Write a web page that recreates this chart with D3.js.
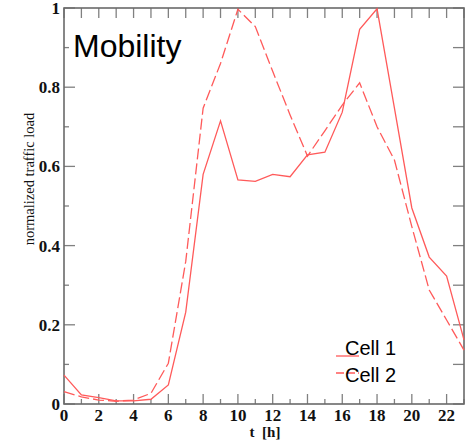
<!DOCTYPE html>
<html><head><meta charset="utf-8">
<script src="https://cdn.jsdelivr.net/npm/d3@7"></script>
<style>body{margin:0;background:#fff}svg{display:block}</style>
</head><body>
<svg id="c" width="468" height="442"></svg>
<script>
const hours = d3.range(0, 24);
const cell1 = [0.073,0.023,0.016,0.008,0.008,0.012,0.048,0.232,0.58,0.715,0.566,0.562,0.58,0.574,0.629,0.636,0.737,0.946,0.998,0.747,0.495,0.371,0.323,0.162];
const cell2 = [0.031,0.018,0.01,0.007,0.01,0.027,0.103,0.36,0.747,0.86,0.997,0.953,0.84,0.73,0.626,0.69,0.755,0.811,0.70,0.616,0.448,0.288,0.212,0.136];
const xTicks = [0,2,4,6,8,10,12,14,16,18,20,22];
const yTicks = [0,0.2,0.4,0.6,0.8,1];
const yTickLabels = ["0","0.2","0.4","0.6","0.8","1"];
const legendLabels = ["Cell 1","Cell 2"];

const svg = d3.select("#c");
const L = 64, R = 464, T = 8, B = 404;
const x = d3.scaleLinear().domain([0,23]).range([L,R]);
const y = d3.scaleLinear().domain([0,1]).range([B,T]);
const red = "#ff5a5a", axisCol = "#808080";
const serif = "'Liberation Serif','Times New Roman',serif";
const sans = "'Liberation Sans',Arial,sans-serif";

// ticks
const g = svg.append("g");
const hourTicks = d3.range(0, 24);
const yMinor = d3.range(0, 11).map(i => i/10);
hourTicks.forEach(h => {
  const len = h % 2 === 0 ? 10 : 5;
  g.append("line").attr("x1",x(h)).attr("x2",x(h)).attr("y1",B).attr("y2",B-len).attr("stroke",axisCol).attr("stroke-width",1.3);
  g.append("line").attr("x1",x(h)).attr("x2",x(h)).attr("y1",T).attr("y2",T+10).attr("stroke",axisCol).attr("stroke-width",1.3);
});
yMinor.forEach((v,i) => {
  const len = i % 2 === 0 ? 11 : 5;
  g.append("line").attr("x1",L).attr("x2",L+len).attr("y1",y(v)).attr("y2",y(v)).attr("stroke",axisCol).attr("stroke-width",1.3);
  g.append("line").attr("x1",R).attr("x2",R-11).attr("y1",y(v)).attr("y2",y(v)).attr("stroke",axisCol).attr("stroke-width",1.3);
});

// frame
svg.append("rect").attr("x",L).attr("y",T).attr("width",R-L).attr("height",B-T)
  .attr("fill","none").attr("stroke","#6a6a6a").attr("stroke-width",1.6);

// tick labels
svg.append("g").selectAll("text").data(xTicks).join("text")
  .attr("x", d => x(d)).attr("y", 421).attr("text-anchor","middle")
  .attr("font-family",serif).attr("font-weight","bold").attr("font-size",17).attr("fill","#111")
  .text(d => d);
svg.append("g").selectAll("text").data(yTicks).join("text")
  .attr("x", 60).attr("y", d => y(d) + 6).attr("text-anchor","end")
  .attr("font-family",serif).attr("font-weight","bold").attr("font-size",17).attr("fill","#111")
  .text((d,i) => yTickLabels[i]);

// axis titles
svg.append("text").attr("x",265).attr("y",437).attr("text-anchor","middle")
  .attr("font-family",serif).attr("font-weight","bold").attr("font-size",15).attr("fill","#111")
  .attr("xml:space","preserve").text("t  [h]");
svg.append("text").attr("transform","translate(34,179) rotate(-90)").attr("text-anchor","middle")
  .attr("font-family",serif).attr("font-size",14.5).attr("fill","#111")
  .text("normalized traffic load");

// lines
const line = d3.line().x((d,i) => x(hours[i])).y(d => y(d));
svg.append("path").datum(cell1).attr("d",line).attr("fill","none").attr("stroke",red).attr("stroke-width",1.3);
svg.append("path").datum(cell2).attr("d",line).attr("fill","none").attr("stroke",red).attr("stroke-width",1.3).attr("stroke-dasharray","11,4");

// title
svg.append("text").attr("x",73).attr("y",57).attr("font-family",sans).attr("font-size",32).attr("fill","#000").text("Mobility");

// legend
const lg = svg.append("g");
legendLabels.forEach((lab,i) => {
  const yy = 356 + i*17;
  lg.append("line").attr("x1",336).attr("x2",359).attr("y1",yy).attr("y2",yy).attr("stroke",red).attr("stroke-width",1.3)
    .attr("stroke-dasharray", i === 1 ? "8,3" : null);
  lg.append("text").attr("x",345).attr("y",355 + i*27).attr("font-family",sans).attr("font-size",20).attr("fill","#000").text(lab);
});
</script>
</body></html>
